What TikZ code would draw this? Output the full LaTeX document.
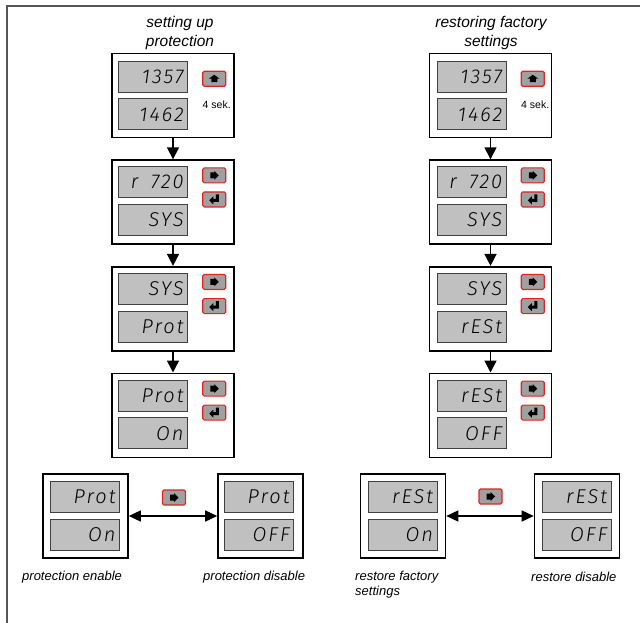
\documentclass[tikz,border=0pt]{standalone}
\usepackage{fontspec}
\setmainfont{Liberation Sans}
\newfontfamily\segfont[LetterSpace=10,ItalicFont={Fira Sans Light Italic}]{Fira Sans Light}
\usepackage{tikz}
\usetikzlibrary{arrows.meta, positioning}
\definecolor{dispgray}{RGB}{192, 192, 192}
\definecolor{keygray}{RGB}{160, 160, 160}
\definecolor{keyred}{RGB}{225, 35, 35}
\definecolor{framegray}{RGB}{85, 85, 85}

\begin{document}
\begin{tikzpicture}[
    x=1pt, y=-1pt,
    panel/.style={
        rectangle,
        draw=black,
        line width=1.6pt,
        fill=white,
        minimum width=122pt,
        minimum height=84pt,
        inner sep=0pt
    },
    endpanel/.style={
        panel,
        minimum width=85pt
    },
    display/.style={
        rectangle,
        draw=black!75,
        line width=0.8pt,
        fill=dispgray,
        minimum width=69pt,
        minimum height=31pt,
        text width=61pt,
        align=right,
        inner xsep=4pt,
        inner ysep=0pt,
        font=\segfont\itshape\fontsize{20}{20}\selectfont
    },
    key/.style={
        rectangle,
        draw=keyred,
        line width=1.1pt,
        fill=keygray,
        rounded corners=1.5pt,
        minimum width=23pt,
        minimum height=15pt,
        inner sep=0pt
    },
    keyup/.style={
        key,
        path picture={\fill[black, sharp corners, shift={(path picture bounding box.center)}]
            (-5.5pt,0pt) -- (0pt,4pt) -- (5.5pt,0pt) -- (3pt,0pt) -- (3pt,-3.5pt)
            -- (-3pt,-3.5pt) -- (-3pt,0pt) -- cycle;}
    },
    keyright/.style={
        key,
        path picture={\fill[black, sharp corners, shift={(path picture bounding box.center)}]
            (-4pt,3pt) -- (0pt,3pt) -- (0pt,4.5pt) -- (4.5pt,0pt) -- (0pt,-4.5pt)
            -- (0pt,-3pt) -- (-4pt,-3pt) -- cycle;}
    },
    keyenter/.style={
        key,
        path picture={\fill[black, sharp corners, shift={(path picture bounding box.center)}]
            (-5pt,-1pt) -- (-1pt,3pt) -- (-1pt,0.5pt) -- (1.5pt,0.5pt) -- (1.5pt,5pt)
            -- (4.5pt,5pt) -- (4.5pt,-2.5pt) -- (-1pt,-2.5pt) -- (-1pt,-5pt) -- cycle;}
    },
    coltitle/.style={
        font=\itshape\fontsize{15.5}{19}\selectfont,
        align=center
    },
    note/.style={
        font=\itshape\fontsize{13}{15}\selectfont,
        align=left,
        anchor=west,
        inner sep=0pt
    },
    holdnote/.style={
        font=\fontsize{10.5}{12}\selectfont,
        inner sep=0pt
    },
    arrow/.style={
        line width=1.5pt,
        -{Triangle[length=12pt, width=12pt]}
    },
    twoway/.style={
        line width=1.5pt,
        {Triangle[length=12pt, width=11pt]}-{Triangle[length=12pt, width=11pt]}
    }
]
\useasboundingbox (0,0) rectangle (640,623);

% ==================== FRAME ====================
\draw [framegray, line width=1.4pt] (640,6) -- (7,6) -- (7,623);

% ==================== LEFT: SETTING UP PROTECTION ====================
\node (l_title) [coltitle] at (180,33) {setting up\\protection};

\node (l_main) [panel] at (173,95.5) {};
\node (l_main_top) [display, below right=8pt and 7pt of l_main.north west] {1357};
\node (l_main_bot) [display, below=6pt of l_main_top] {1462};
\node (l_main_k) [keyup, below right=18pt and 91pt of l_main.north west] {};
\node (l_main_hold) [holdnote, below=14pt of l_main_k, xshift=2.5pt] {4 sek.};

\node (l_menu) [panel, below=21pt of l_main] {};
\node (l_menu_top) [display, below right=7pt and 7pt of l_menu.north west] {r \kern6pt720};
\node (l_menu_bot) [display, below=6pt of l_menu_top] {SYS};
\node (l_menu_k1) [keyright, below right=8pt and 91pt of l_menu.north west] {};
\node (l_menu_k2) [keyenter, below=8pt of l_menu_k1] {};

\node (l_sys) [panel, below=21pt of l_menu] {};
\node (l_sys_top) [display, below right=7pt and 7pt of l_sys.north west] {SYS};
\node (l_sys_bot) [display, below=6pt of l_sys_top] {Prot};
\node (l_sys_k1) [keyright, below right=8pt and 91pt of l_sys.north west] {};
\node (l_sys_k2) [keyenter, below=8pt of l_sys_k1] {};

\node (l_prot) [panel, below=21pt of l_sys] {};
\node (l_prot_top) [display, below right=7pt and 7pt of l_prot.north west] {Prot};
\node (l_prot_bot) [display, below=6pt of l_prot_top] {On};
\node (l_prot_k1) [keyright, below right=8pt and 91pt of l_prot.north west] {};
\node (l_prot_k2) [keyenter, below=8pt of l_prot_k1] {};

\draw [arrow] (l_main) -- (l_menu);
\draw [arrow] (l_menu) -- (l_sys);
\draw [arrow] (l_sys) -- (l_prot);

\node (l_on) [endpanel] at (85.5,516) {};
\node (l_on_top) [display, below right=8pt and 8pt of l_on.north west] {Prot};
\node (l_on_bot) [display, below=6pt of l_on_top] {On};

\node (l_off) [endpanel] at (260.5,516) {};
\node (l_off_top) [display, below right=8pt and 7pt of l_off.north west] {Prot};
\node (l_off_bot) [display, below=6pt of l_off_top] {OFF};

\node (l_sel) [keyright] at (174,497.5) {};
\draw [twoway] (l_on) -- (l_off);

\node (l_on_note) [note] at (22,577) {protection enable};
\node (l_off_note) [note] at (203,577) {protection disable};

% ==================== RIGHT: RESTORING FACTORY SETTINGS ====================
\node (r_title) [coltitle] at (491,33) {restoring factory\\settings};

\node (r_main) [panel] at (490.5,95.5) {};
\node (r_main_top) [display, below right=8pt and 8pt of r_main.north west] {1357};
\node (r_main_bot) [display, below=6pt of r_main_top] {1462};
\node (r_main_k) [keyup, below right=18pt and 92pt of r_main.north west] {};
\node (r_main_hold) [holdnote, below=14pt of r_main_k, xshift=2.5pt] {4 sek.};

\node (r_menu) [panel, below=21pt of r_main] {};
\node (r_menu_top) [display, below right=7pt and 8pt of r_menu.north west] {r \kern6pt720};
\node (r_menu_bot) [display, below=6pt of r_menu_top] {SYS};
\node (r_menu_k1) [keyright, below right=8pt and 92pt of r_menu.north west] {};
\node (r_menu_k2) [keyenter, below=8pt of r_menu_k1] {};

\node (r_sys) [panel, below=21pt of r_menu] {};
\node (r_sys_top) [display, below right=7pt and 8pt of r_sys.north west] {SYS};
\node (r_sys_bot) [display, below=6pt of r_sys_top] {rESt};
\node (r_sys_k1) [keyright, below right=8pt and 92pt of r_sys.north west] {};
\node (r_sys_k2) [keyenter, below=8pt of r_sys_k1] {};

\node (r_rest) [panel, below=21pt of r_sys] {};
\node (r_rest_top) [display, below right=7pt and 8pt of r_rest.north west] {rESt};
\node (r_rest_bot) [display, below=6pt of r_rest_top] {OFF};
\node (r_rest_k1) [keyright, below right=8pt and 92pt of r_rest.north west] {};
\node (r_rest_k2) [keyenter, below=8pt of r_rest_k1] {};

\draw [arrow] (r_main) -- (r_menu);
\draw [arrow] (r_menu) -- (r_sys);
\draw [arrow] (r_sys) -- (r_rest);

\node (r_on) [endpanel] at (403,516) {};
\node (r_on_top) [display, below right=8pt and 8pt of r_on.north west] {rESt};
\node (r_on_bot) [display, below=6pt of r_on_top] {On};

\node (r_off) [endpanel] at (577,516) {};
\node (r_off_top) [display, below right=8pt and 8pt of r_off.north west] {rESt};
\node (r_off_bot) [display, below=6pt of r_off_top] {OFF};

\node (r_sel) [keyright] at (490.5,496.5) {};
\draw [twoway] (r_on) -- (r_off);

\node (r_on_note) [note] at (355,584.5) {restore factory\\settings};
\node (r_off_note) [note] at (531,577) {restore disable};

\end{tikzpicture}
\end{document}
